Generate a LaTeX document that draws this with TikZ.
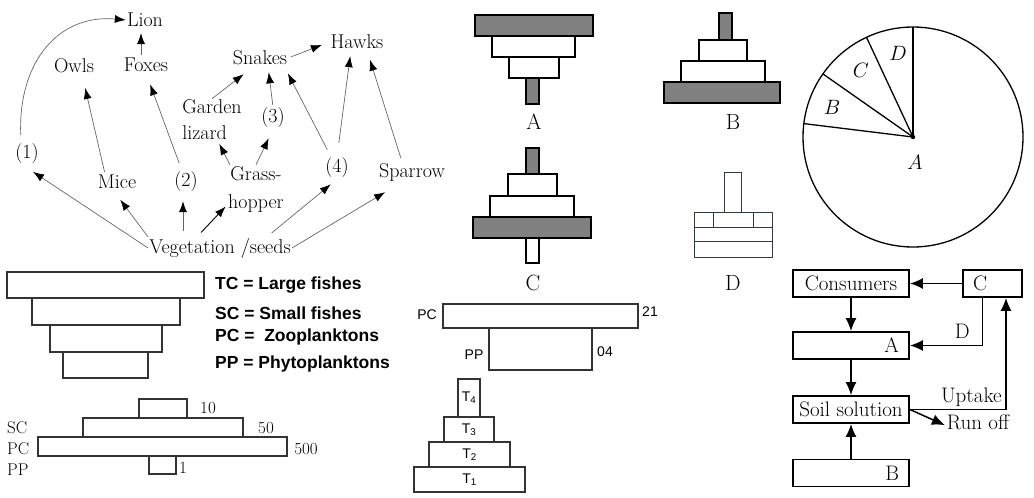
\documentclass[tikz,border=0pt]{standalone}
\usepackage{fontspec}
\usepackage{tikz}
\usetikzlibrary{arrows.meta, positioning, calc}
\newfontfamily\arialfont{Liberation Sans}
\definecolor{bargray}{rgb}{0.5,0.5,0.5}
\definecolor{dgreen}{rgb}{0.18,0.25,0.2}
\definecolor{dgray}{rgb}{0.2,0.2,0.2}

\tikzset{
  webtext/.style={font=\fontsize{20}{26}\selectfont, inner sep=1pt},
  feeds/.style={draw=black!60, line width=0.7pt, -{Latex[length=11pt,width=8pt,color=black]}},
  bar/.style={draw, line width=1.2pt},
  lvl/.style={draw=dgray, line width=1.1pt},
  pyrlabel/.style={font=\fontsize{22}{24}\selectfont, inner sep=0pt},
  pielabel/.style={font=\fontsize{22}{24}\selectfont, inner sep=0pt},
  legend/.style={font=\arialfont\bfseries\fontsize{17.5}{19}\selectfont, inner sep=0pt},
  numlabel/.style={font=\fontsize{17}{18}\selectfont, inner sep=0pt},
  sanslabel/.style={font=\arialfont\fontsize{14}{16}\selectfont, inner sep=0pt},
  flowbox/.style={draw, line width=1.8pt, minimum width=116pt, minimum height=27pt, inner sep=0pt, font=\fontsize{21}{23}\selectfont},
  flowlabel/.style={font=\fontsize{21}{23}\selectfont, inner sep=0pt},
  flow/.style={line width=1.5pt, -{Latex[length=13pt,width=11pt]}},
}

\begin{document}
\begin{tikzpicture}[x=1pt, y=-1pt]
    \useasboundingbox (0,0) rectangle (1034,498);

    % food web
    \node[webtext] (lion) at (145,20) {Lion};
    \node[webtext] (owls) at (74,66) {Owls};
    \node[webtext] (foxes) at (146,65) {Foxes};
    \node[webtext] (one) at (27,154) {(1)};
    \node[webtext] (mice) at (117,182) {Mice};
    \node[webtext] (two) at (186,182) {(2)};
    \node[webtext, align=left] (lizard) at (212,120) {Garden\\lizard};
    \node[webtext, align=center, font=\fontsize{20}{28}\selectfont] (grass) at (256,189) {Grass-\\hopper};
    \node[webtext] (snakes) at (260,58) {Snakes};
    \node[webtext] (hawks) at (357,42) {Hawks};
    \node[webtext] (three) at (273,118) {(3)};
    \node[webtext] (four) at (337,168) {(4)};
    \node[webtext] (sparrow) at (412,172) {Sparrow};
    \node[webtext] (veg) at (220,248) {Vegetation /seeds};

    \draw[feeds, shorten <=8pt] ([xshift=-6pt]one.north) .. controls (18,60) and (60,14) .. (lion.west);
    \draw[feeds, shorten <=2pt, shorten >=14pt] ([xshift=-12pt]mice.north) -- ([xshift=8pt]owls.south);
    \draw[feeds, shorten <=8pt, shorten >=12pt] ([xshift=-4pt]two.north) -- (foxes.south);
    \draw[feeds, shorten <=2pt, shorten >=5pt] ([xshift=-5pt]foxes.north) -- ([xshift=-4pt]lion.south);
    \draw[feeds, shorten >=3pt] (lizard.north) -- ([xshift=-14pt,yshift=-6pt]snakes.south);
    \draw[feeds, shorten >=3pt] ([xshift=-26pt]grass.north) -- ([xshift=6pt]lizard.south);
    \draw[feeds, shorten >=10pt] (grass.north) -- (three.south);
    \draw[feeds, shorten <=2pt, shorten >=6pt] (three.north) -- ([xshift=8pt]snakes.south);
    \draw[feeds, shorten <=8pt, shorten >=8pt] ([xshift=-6pt]four.north) -- ([xshift=-4pt]snakes.south east);
    \draw[feeds, shorten <=14pt, shorten >=6pt] (four.north) -- ([xshift=-6pt]hawks.south);
    \draw[feeds, shorten <=4pt, shorten >=10pt] ([xshift=-10pt]sparrow.north) -- ([xshift=10pt]hawks.south);
    \draw[feeds, shorten <=3pt, shorten >=8pt] (snakes.east) -- (hawks.west);
    \draw[feeds, shorten >=12pt] (veg.west) -- ([xshift=-4pt]one.south);
    \draw[feeds, shorten >=12pt] (veg.north west) -- ([xshift=-4pt]mice.south);
    \draw[feeds, shorten <=6pt, shorten >=8pt] ([xshift=-37pt]veg.north) -- ([xshift=-3pt]two.south);
    \draw[feeds, draw=black, line width=0.9pt, shorten <=6pt, shorten >=2pt] ([xshift=-23pt]veg.north) -- ([yshift=-16pt]grass.west);
    \draw[feeds, shorten <=6pt, shorten >=8pt] ([xshift=47pt]veg.north) -- (four.south);
    \draw[feeds, shorten >=8pt] (veg.east) -- ([xshift=-20pt,yshift=-6pt]sparrow.south);

    % four pyramids
    \foreach \xa/\ya/\xb/\yb/\f in {
        475/15/593/36/bargray, 492/36/575/57/white, 509/57/559/78/white, 526/78/539/104/bargray,
        719/13/732/40/bargray, 699/40/747/61/white, 681/61/765/82/white, 664/82/780/103/bargray,
        526/148/539/174/bargray, 508/174/557/196/white, 490/196/574/217/white, 473/217/591/238/bargray,
        526/238/539/263/white}
        \draw[bar, fill=\f] (\xa,\ya) rectangle (\xb,\yb);
    \foreach \xa/\ya/\xb/\yb in {
        724/172/741/212, 694/212/772/227, 694/227/772/241, 694/241/772/257}
        \draw[bar, draw=dgreen, line width=1pt] (\xa,\ya) rectangle (\xb,\yb);
    \draw[dgreen, line width=1pt] (713,212) -- (713,227) (753,212) -- (753,227);
    \foreach \n/\x/\y in {A/534/122, B/733/122, C/533/283, D/733/283}
        \node[pyrlabel] (lab\n) at (\x,\y) {\n};

    % pie
    \coordinate (pc) at (913,137);
    \draw[line width=1.3pt] (pc) circle (110pt);
    \foreach \a in {90,115,145,173}
        \draw[line width=1.3pt] (pc) -- ++(\a:110pt);
    \fill (pc) circle (2.2pt);
    \foreach \n/\x/\y in {D/898/53, C/861/70, B/832/107, A/915/162}
        \node[pielabel] (pie\n) at (\x,\y) {$\n$};

    % pyramid with key
    \foreach \xa/\ya/\xb/\yb in {
        7/272/204/298, 32/298/180/325, 50/325/162/352, 63/352/148/378}
        \draw[lvl] (\xa,\ya) rectangle (\xb,\yb);
    \foreach \n/\y/\txt in {
        tc/285/{TC = Large fishes},
        sc/313/{SC = Small fishes},
        pc/337/{PC = \ Zooplanktons},
        pp/364/{PP = Phytoplanktons}}
        \node[legend, anchor=west] (key\n) at (215,\y) {\txt};

    % numbers pyramid
    \foreach \xa/\ya/\xb/\yb in {
        139/399/187/418, 83/418/243/437, 38/437/287/456, 149/456/176/474}
        \draw[lvl] (\xa,\ya) rectangle (\xb,\yb);
    \foreach \n/\y in {SC/428, PC/449, PP/470}
        \node[numlabel, anchor=west] (lv\n) at (7,\y) {\n};
    \foreach \n/\x/\y in {10/208/408, 50/266/428, 500/306/449}
        \node[numlabel] (num\n) at (\x,\y) {\n};
    \node[numlabel, anchor=west] (num1) at (179,468) {1};

    % PC / PP
    \draw[lvl] (443,304) rectangle (638,328);
    \draw[lvl] (489,328) rectangle (592,370);
    \node[sanslabel] (mpc) at (427,315) {PC};
    \node[sanslabel] (m21) at (650,312) {21};
    \node[sanslabel] (mpp) at (474,355) {PP};
    \node[sanslabel] (m04) at (605,352) {04};

    % T levels
    \foreach \xa/\ya/\xb/\yb/\k in {
        458/379/480/417/4, 444/417/494/442/3, 429/442/510/467/2, 414/467/525/492/1}
    {
        \draw[lvl] (\xa,\ya) rectangle (\xb,\yb);
        \node[sanslabel] (t\k) at ({(\xa+\xb)/2},{(\ya+\yb)/2}) {T\textsubscript{\k}};
    }

    % cycle
    \node[flowbox] (cons) at (851,283.5) {Consumers};
    \node[flowbox, minimum width=59pt, text width=39pt, align=left] (cbox) at (992.5,283.5) {C};
    \node[flowbox, text width=96pt, align=right] (abox) at (851,345.5) {A};
    \node[flowbox] (soil) at (851,409.5) {Soil solution};
    \node[flowbox, text width=96pt, align=right] (bbox) at (851,473) {B};
    \node[flowlabel] (runoff) at (978,422) {Run off};

    \draw[flow] (cbox) -- (cons);
    \draw[flow] (cons) -- (abox);
    \draw[flow] ([xshift=-10pt]cbox.south) |- node[flowlabel, above=6pt, pos=0.64] (dlab) {D} (abox.east);
    \draw[flow] (abox) -- (soil);
    \draw[flow] (bbox) -- (soil);
    \draw[flow] (soil.east) -| node[flowlabel, above=2pt, pos=0.32] (uplab) {Uptake} ([xshift=13.5pt]cbox.south);
    \draw[flow, shorten >=2pt] (soil.east) -- ([yshift=-4pt]runoff.west);

\end{tikzpicture}
\end{document}
